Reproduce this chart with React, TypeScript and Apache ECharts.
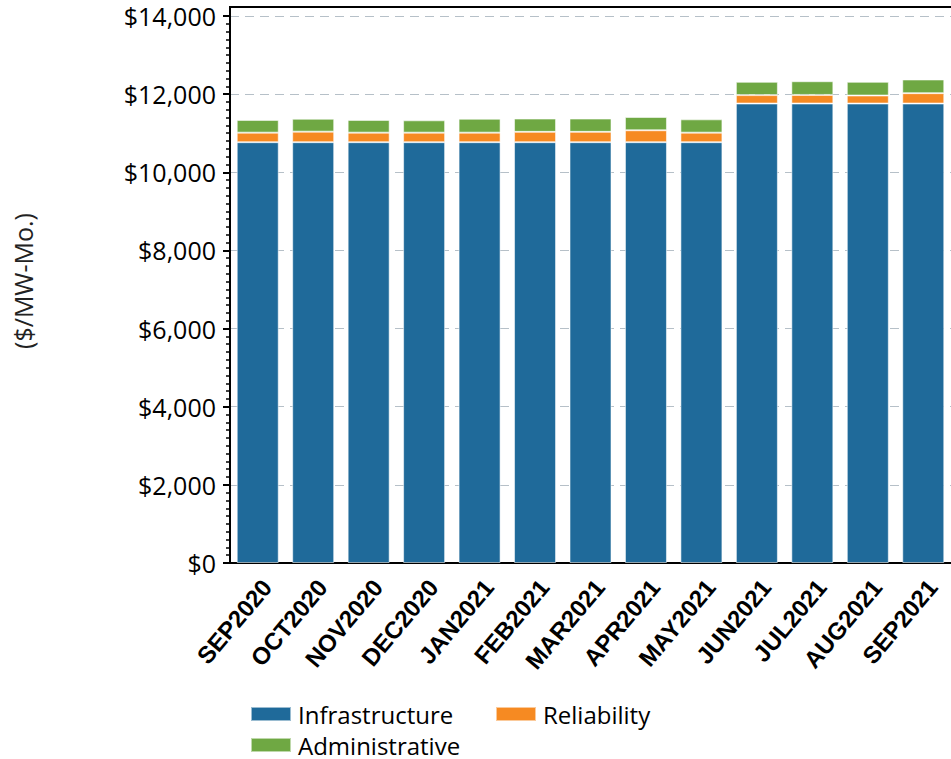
import React, { useEffect, useRef } from "react";
import * as echarts from "echarts";

const categories = [
  "SEP2020", "OCT2020", "NOV2020", "DEC2020", "JAN2021", "FEB2021", "MAR2021",
  "APR2021", "MAY2021", "JUN2021", "JUL2021", "AUG2021", "SEP2021",
];
const infrastructure = [10770, 10770, 10770, 10770, 10770, 10770, 10770, 10770, 10770, 11760, 11760, 11760, 11760];
const reliability = [245, 270, 245, 245, 245, 265, 265, 305, 245, 215, 220, 205, 265];
const administrative = [325, 330, 325, 315, 355, 340, 340, 340, 340, 340, 350, 350, 350];

const yMin = 0;
const yMax = 14000;
const yInterval = 2000;
const yAxisTitle = "($/MW-Mo.)";

const COLORS = { infra: "#1F6A9A", rel: "#F68A22", adm: "#6FA843" };
const FONT = "'Open Sans', 'Noto Sans', sans-serif";

export default function App() {
  const ref = useRef<HTMLDivElement>(null);
  useEffect(() => {
    if (!ref.current) return;
    const chart = echarts.init(ref.current, undefined, { renderer: "svg" });
    const barStyle = (c: string) => ({
      color: c,
      borderColor: "rgba(255,255,255,0.55)",
      borderWidth: 1,
    });
    const legendText = { fontSize: 24, lineHeight: 18, color: "#000", fontFamily: FONT, padding: [0, 0, 0, 2] };
    const legendBase = { itemWidth: 40, itemHeight: 14, icon: "rect", textStyle: legendText, itemGap: 0, padding: 2 };
    chart.setOption({
      animation: false,
      backgroundColor: "#fff",
      grid: { left: 230, right: -8, top: 16, bottom: 196, containLabel: false },
      legend: [
        { ...legendBase, data: ["Infrastructure"], left: 248, top: 700 },
        { ...legendBase, data: ["Reliability"], left: 493, top: 700 },
        { ...legendBase, data: ["Administrative"], left: 248, top: 731 },
      ],
      xAxis: {
        type: "category",
        data: categories,
        axisLine: { show: true, lineStyle: { color: "#000", width: 2 } },
        axisTick: { show: false },
        axisLabel: {
          rotate: 50,
          interval: 0,
          margin: 12,
          color: "#000",
          fontSize: 24,
          verticalAlign: "top",
          fontWeight: "bold",
          fontFamily: "'Liberation Sans', Arial, sans-serif",
        },
      },
      yAxis: {
        type: "value",
        min: yMin,
        max: yMax,
        interval: yInterval,
        axisLine: { show: true, lineStyle: { color: "#000", width: 2 } },
        axisTick: { show: true, inside: false, length: 7, lineStyle: { color: "#000", width: 2 } },
        minorTick: { show: true, splitNumber: 10, length: 4, lineStyle: { color: "#000", width: 1.5 } },
        axisLabel: {
          margin: 14,
          color: "#000",
          fontSize: 25,
          fontFamily: FONT,
          formatter: (v: number) => "$" + v.toLocaleString("en-US"),
        },
        splitLine: { show: true, lineStyle: { color: "#B6C0C8", type: [9, 6], width: 1.2 } },
      },
      series: [
        { name: "Infrastructure", type: "bar", stack: "t", data: infrastructure, barWidth: 42, itemStyle: barStyle(COLORS.infra) },
        { name: "Reliability", type: "bar", stack: "t", data: reliability, barWidth: 42, itemStyle: barStyle(COLORS.rel) },
        { name: "Administrative", type: "bar", stack: "t", data: administrative, barWidth: 42, itemStyle: barStyle(COLORS.adm) },
      ],
      graphic: [
        { type: "line", shape: { x1: 229, y1: 7, x2: 951, y2: 7 }, style: { stroke: "#000", lineWidth: 2 } },
        { type: "line", shape: { x1: 230, y1: 6, x2: 230, y2: 16 }, style: { stroke: "#000", lineWidth: 2 } },
        {
          type: "text",
          x: 23,
          y: 281,
          rotation: Math.PI / 2,
          style: {
            text: yAxisTitle,
            fontSize: 25,
            fontFamily: FONT,
            fill: "#222",
            align: "center",
            verticalAlign: "middle",
          },
        },
      ],
    });
    return () => chart.dispose();
  }, []);
  return <div ref={ref} style={{ width: 951, height: 759, position: "absolute", left: 0, top: 0 }} />;
}
